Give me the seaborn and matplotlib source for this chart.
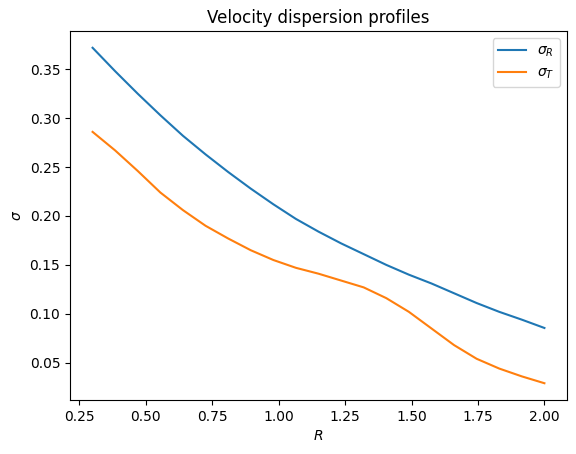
import pandas as pd
import numpy as np
import matplotlib
matplotlib.use('Agg')
import matplotlib.pyplot as plt
import seaborn as sns

# radii and dispersion profiles
R = [0.300, 0.385, 0.470, 0.555, 0.640, 0.725, 0.810, 0.895, 0.980, 1.065,
     1.150, 1.235, 1.320, 1.405, 1.490, 1.575, 1.660, 1.745, 1.830, 1.915, 2.000]
sigma_R = [0.372, 0.348, 0.325, 0.303, 0.282, 0.263, 0.245, 0.228, 0.212, 0.197,
           0.184, 0.172, 0.161, 0.150, 0.140, 0.131, 0.121, 0.111, 0.102, 0.094, 0.0855]
sigma_T = [0.286, 0.267, 0.246, 0.224, 0.206, 0.190, 0.177, 0.165, 0.155, 0.147,
           0.141, 0.134, 0.127, 0.116, 0.102, 0.085, 0.068, 0.054, 0.044, 0.036, 0.029]
labels = [r'$\sigma_R$', r'$\sigma_T$']

df = pd.DataFrame({
    'R': R + R,
    'sigma': sigma_R + sigma_T,
    'component': [labels[0]] * len(R) + [labels[1]] * len(R),
})

fig, ax = plt.subplots(figsize=(5.76, 4.54), dpi=100)
sns.lineplot(data=df, x='R', y='sigma', hue='component',
             palette=['#1f77b4', '#ff7f0e'], ax=ax)
ax.set_title('Velocity dispersion profiles')
ax.set_xlabel('$R$')
ax.set_ylabel(r'$\sigma$')
ax.legend(title=None)
fig.subplots_adjust(left=70 / 576, right=567 / 576, top=1 - 31 / 454, bottom=1 - 400 / 454)
plt.savefig('out.png')
